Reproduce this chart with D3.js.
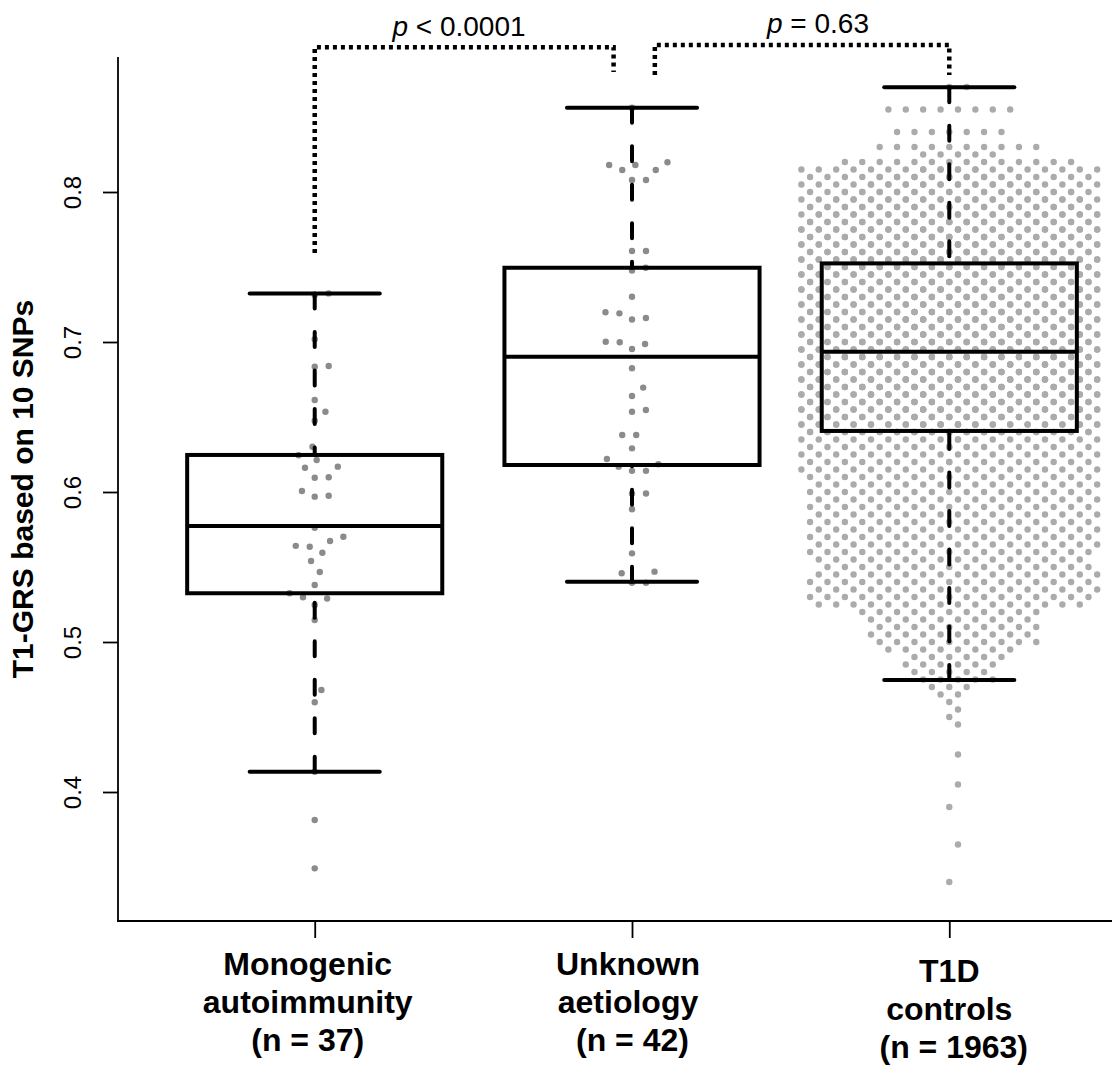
<!DOCTYPE html>
<html>
<head>
<meta charset="utf-8">
<script src="https://cdn.jsdelivr.net/npm/d3@7"></script>
<style>
  body { margin: 0; background: #ffffff; }
  svg { display: block; }
  text { font-family: "Liberation Sans", Arial, Helvetica, sans-serif; fill: #000; }
</style>
</head>
<body>
<svg id="chart" width="1112" height="1066"></svg>
<script>
// ---- data -------------------------------------------------------------
const groups = ["Monogenic autoimmunity", "Unknown aetiology", "T1D controls"];
const groupLabelLines = [
  ["Monogenic", "autoimmunity", "(n = 37)"],
  ["Unknown", "aetiology", " (n = 42)"],
  ["T1D", "controls", " (n = 1963)"]
];
const yTicks = [0.4, 0.5, 0.6, 0.7, 0.8];
const yTitle = "T1-GRS based on 10 SNPs";

// individual T1-GRS scores
const monogenicScores = [
  0.7324, 0.7313, 0.7018, 0.6835, 0.6840, 0.6613, 0.6535, 0.6475, 0.6302, 0.6245,
  0.6213, 0.6162, 0.6169, 0.6095, 0.6098, 0.6007, 0.5969, 0.5975, 0.5762, 0.5702,
  0.5673, 0.5635, 0.5641, 0.5595, 0.5540, 0.5467, 0.5380, 0.5325, 0.5298, 0.5290,
  0.5247, 0.5147, 0.4680, 0.4598, 0.4135, 0.3813, 0.3491
];
const unknownScores = [
  0.8562, 0.8180, 0.8147, 0.8180, 0.8147, 0.8198, 0.8080, 0.8080, 0.7607, 0.7607,
  0.7476, 0.7495, 0.7302, 0.7198, 0.7191, 0.7150, 0.7160, 0.7002, 0.6998, 0.6987,
  0.6953, 0.6825, 0.6696, 0.6640, 0.6535, 0.6547, 0.6380, 0.6380, 0.6291, 0.6220,
  0.6169, 0.6185, 0.6141, 0.6141, 0.5990, 0.5990, 0.5885, 0.5591, 0.5458, 0.5469,
  0.5395, 0.5395
];
// T1D controls: number of subjects at each score level (0.005 steps)
const controlLevels = [
  0.340, 0.365, 0.390, 0.405, 0.425,
  0.445, 0.450, 0.455, 0.460, 0.465, 0.470,
  0.475, 0.480, 0.485, 0.490, 0.495,
  0.500, 0.505, 0.510, 0.515, 0.520,
  0.525, 0.530, 0.535, 0.540, 0.545,
  0.550, 0.555, 0.560, 0.565, 0.570,
  0.575, 0.580, 0.585, 0.590, 0.595,
  0.600, 0.605, 0.610, 0.615,
  0.620, 0.625, 0.630, 0.635,
  0.640, 0.645, 0.650, 0.655, 0.660, 0.665, 0.670, 0.675, 0.680, 0.685, 0.690,
  0.695, 0.700, 0.705, 0.710, 0.715, 0.720, 0.725, 0.730, 0.735, 0.740, 0.745, 0.750,
  0.755, 0.760, 0.765, 0.770, 0.775, 0.780, 0.785, 0.790, 0.795, 0.800,
  0.805, 0.810, 0.815, 0.820, 0.825, 0.830, 0.840, 0.855, 0.870
];
const controlCounts = [
  1, 1, 1, 1, 1,
  1, 1, 1, 1, 2, 3,
  5, 5, 6, 6, 8,
  10, 10, 10, 10, 11,
  16, 17, 17, 17, 17,
  16, 16, 17, 17, 17,
  17, 17, 17, 17, 17,
  17, 17, 17, 18,
  18, 18, 19, 19,
  42, 40, 42, 44, 45, 46, 46, 47, 47, 47, 47,
  46, 46, 45, 44, 43, 42, 41, 40, 39, 38, 37, 35,
  40, 39, 39, 38, 37, 36, 35, 34, 33, 31,
  28, 26, 22, 14, 5, 10, 7, 8, 2
];

// box-plot summaries per group
const whiskerLow  = [0.4135, 0.5402, 0.4747];
const lowerHinge  = [0.5325, 0.6180, 0.6407];
const medians     = [0.5773, 0.6902, 0.6935];
const upperHinge  = [0.6247, 0.7495, 0.7524];
const whiskerHigh = [0.7324, 0.8562, 0.8698];

// pairwise comparisons
const comparisons = [
  { from: 0, to: 1, op: "< 0.0001" },
  { from: 1, to: 2, op: "= 0.63" }
];

// ---- layout -----------------------------------------------------------
const svg = d3.select("#chart");
const x = d3.scaleLinear().domain([0.38, 3.62]).range([118, 1146]);
const y = d3.scaleLinear().domain([0.314, 0.890]).range([921, 57]);
const ppu = x(2) - x(1);          // pixels per group step

const dotDiam = 14;               // swarm collision distance (px)
const corralHalf = 148;           // half width available to the large group
const hexStep = 17.4;             // horizontal pitch of the large-group lattice
const levelStep = 0.005;

// beeswarm: place points in ascending order at the free offset nearest the centre
function swarm(py, d) {
  const order = d3.range(py.length).sort((a, b) => py[b] - py[a]);
  const placed = [];
  const out = new Array(py.length);
  for (const i of order) {
    const yy = py[i];
    const near = [];
    for (let k = placed.length - 1; k >= 0; k--) {
      if (placed[k].y - yy >= d) break;
      near.push(placed[k]);
    }
    const cands = [0];
    for (const p of near) {
      const dy = p.y - yy;
      const dx = Math.sqrt(Math.max(0, d * d - dy * dy));
      cands.push(p.x + dx, p.x - dx);
    }
    cands.sort((a, b) => (Math.abs(a) - Math.abs(b)) || (b - a));
    let chosen = 0;
    for (const c of cands) {
      let ok = true;
      for (const p of near) {
        const dx = p.x - c, dy = p.y - yy;
        if (dx * dx + dy * dy < d * d - 1e-6) { ok = false; break; }
      }
      if (ok) { chosen = c; break; }
    }
    placed.push({ x: chosen, y: yy });
    out[i] = chosen;
  }
  return out;
}

// hexagonal beeswarm for binned scores; rows wrap inside the corral
function hexSlots(level) {
  const odd = Math.round(level / levelStep) % 2 === 1;
  const slots = [];
  if (!odd) {
    slots.push(0);
    for (let k = 1; k * hexStep <= corralHalf; k++) slots.push(k * hexStep, -k * hexStep);
  } else {
    for (let k = 0; (k + 0.5) * hexStep <= corralHalf; k++) slots.push((k + 0.5) * hexStep, -(k + 0.5) * hexStep);
  }
  return slots;
}

const controlPoints = [];
controlLevels.forEach((lv, i) => {
  const slots = hexSlots(lv);
  for (let k = 0; k < controlCounts[i]; k++) controlPoints.push({ v: lv, off: slots[k % slots.length] });
});

const swarmGroups = [monogenicScores, unknownScores];
const dotColors = ["#8b8b8b", "#8b8b8b", "#ababab"];

// ---- dots ---------------------------------------------------------------
svg.append("g")
  .selectAll("circle")
  .data(controlPoints)
  .join("circle")
  .attr("cx", d => x(3) + d.off)
  .attr("cy", d => y(d.v))
  .attr("r", 3.2)
  .attr("fill", dotColors[2]);

swarmGroups.forEach((scores, gi) => {
  const offs = swarm(scores.map(v => y(v)), dotDiam);
  svg.append("g")
    .selectAll("circle")
    .data(scores)
    .join("circle")
    .attr("cx", (d, i) => x(gi + 1) + offs[i])
    .attr("cy", d => y(d))
    .attr("r", 3.2)
    .attr("fill", dotColors[gi]);
});

// ---- box plots ------------------------------------------------------------
const boxHalf = 0.402 * ppu;
const capHalf = 0.205 * ppu;
const boxes = svg.append("g");
groups.forEach((g, gi) => {
  const cx = x(gi + 1);
  // whiskers, drawn from the whisker end towards the box
  boxes.append("line")
    .attr("x1", cx).attr("x2", cx)
    .attr("y1", y(whiskerHigh[gi])).attr("y2", y(upperHinge[gi]))
    .attr("stroke", "#000").attr("stroke-width", 4)
    .attr("stroke-dasharray", "15,23.5").attr("stroke-linecap", "round");
  boxes.append("line")
    .attr("x1", cx).attr("x2", cx)
    .attr("y1", y(whiskerLow[gi])).attr("y2", y(lowerHinge[gi]))
    .attr("stroke", "#000").attr("stroke-width", 4)
    .attr("stroke-dasharray", "15,23.5").attr("stroke-linecap", "round");
  // staples
  [whiskerHigh[gi], whiskerLow[gi]].forEach(v => {
    boxes.append("line")
      .attr("x1", cx - capHalf).attr("x2", cx + capHalf)
      .attr("y1", y(v)).attr("y2", y(v))
      .attr("stroke", "#000").attr("stroke-width", 4).attr("stroke-linecap", "round");
  });
  // box
  boxes.append("rect")
    .attr("x", cx - boxHalf).attr("width", 2 * boxHalf)
    .attr("y", y(upperHinge[gi])).attr("height", y(lowerHinge[gi]) - y(upperHinge[gi]))
    .attr("fill", "none").attr("stroke", "#000").attr("stroke-width", 4);
  // median
  boxes.append("line")
    .attr("x1", cx - boxHalf).attr("x2", cx + boxHalf)
    .attr("y1", y(medians[gi])).attr("y2", y(medians[gi]))
    .attr("stroke", "#000").attr("stroke-width", 4);
});

// ---- axes -----------------------------------------------------------------
const yAxis = d3.axisLeft(y).tickValues(yTicks).tickSize(15).tickFormat(d3.format(".1f"));
const yg = svg.append("g").attr("transform", "translate(118,0)").call(yAxis);
yg.select(".domain").remove();
yg.selectAll(".tick line").attr("stroke", "#000").attr("stroke-width", 1.8);
yg.selectAll(".tick text")
  .attr("font-size", 24)
  .attr("x", 0).attr("y", 0).attr("dy", null)
  .attr("text-anchor", "middle")
  .attr("transform", "translate(-37,0) rotate(-90)");

svg.append("line").attr("x1", 118).attr("x2", 118).attr("y1", 57).attr("y2", 922)
  .attr("stroke", "#000").attr("stroke-width", 1.8);

const xAxis = d3.axisBottom(x).tickValues([1, 2, 3]).tickSize(17).tickFormat("");
const xg = svg.append("g").attr("transform", "translate(0,921)").call(xAxis);
xg.select(".domain").remove();
xg.selectAll(".tick line").attr("stroke", "#000").attr("stroke-width", 1.8);
svg.append("line").attr("x1", 117).attr("x2", 1112).attr("y1", 921).attr("y2", 921)
  .attr("stroke", "#000").attr("stroke-width", 1.8);

// y-axis title
svg.append("text")
  .attr("transform", `translate(33,${(57 + 921) / 2}) rotate(-90)`)
  .attr("text-anchor", "middle")
  .attr("font-size", 30).attr("font-weight", "bold")
  .text(yTitle);

// group labels
const labelShift = [[-7, 0], [-4, 0], [0, 7]];
groupLabelLines.forEach((lines, gi) => {
  const t = svg.append("text")
    .attr("text-anchor", "middle")
    .attr("font-size", 32).attr("font-weight", "bold")
    .attr("xml:space", "preserve")
    .style("white-space", "pre");
  lines.forEach((ln, li) => {
    t.append("tspan")
      .attr("x", x(gi + 1) + labelShift[gi][0])
      .attr("y", 975 + labelShift[gi][1] + li * 38)
      .text(ln);
  });
});

// ---- comparison brackets ---------------------------------------------------
const brackets = svg.append("g");
const bracketGeom = [
  { x1: 0, x2: -0.058, top: 0.8965, leg1: 0.7593, leg2: 0.8800, tx: 459, ty: 36 },
  { x1: 0.072, x2: 0, top: 0.8980, leg1: 0.8780, leg2: 0.8780, tx: 818, ty: 33 }
];
comparisons.forEach((c, i) => {
  const gm = bracketGeom[i];
  const xa = x(c.from + 1) + gm.x1 * ppu;
  const xb = x(c.to + 1) + gm.x2 * ppu;
  const path = d3.path();
  path.moveTo(xa, y(gm.leg1));
  path.lineTo(xa, y(gm.top));
  path.lineTo(xb, y(gm.top));
  path.lineTo(xb, y(gm.leg2));
  brackets.append("path")
    .attr("d", path.toString())
    .attr("fill", "none").attr("stroke", "#000")
    .attr("stroke-width", 4.5).attr("stroke-dasharray", "4,4");
  const t = brackets.append("text")
    .attr("x", gm.tx).attr("y", gm.ty)
    .attr("text-anchor", "middle").attr("font-size", 28)
    .style("white-space", "pre");
  t.append("tspan").attr("font-style", "italic").text("p");
  t.append("tspan").text(" " + c.op);
});
</script>
</body>
</html>
